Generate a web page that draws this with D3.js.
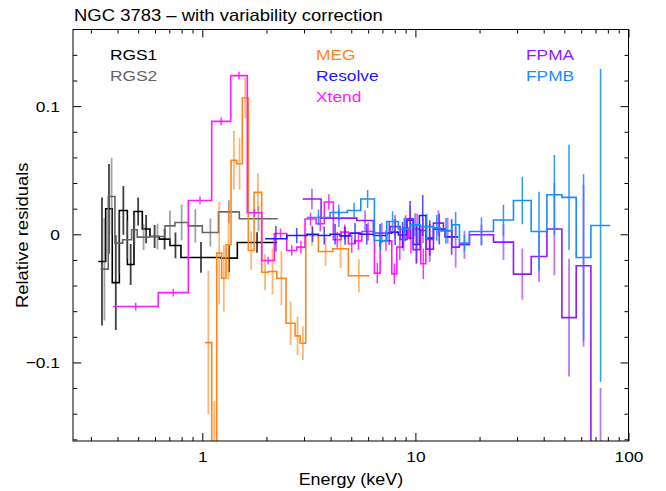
<!DOCTYPE html>
<html>
<head>
<meta charset="utf-8">
<script src="https://cdn.jsdelivr.net/npm/d3@7"></script>
<style>
  html, body { margin: 0; padding: 0; background: #fff; }
  svg text { font-family: "Liberation Sans", Arial, Helvetica, sans-serif; fill: #000; }
</style>
</head>
<body>
<svg id="chart" width="666" height="491"></svg>
<script>
// Residual spectra: each instrument is a set of energy bins (edges in keV),
// the relative residual in each bin and its 1-sigma error.

const rgs1Edges = [0.325, 0.352, 0.378, 0.408, 0.445, 0.478, 0.523, 0.568, 0.628, 0.705, 0.794, 1.224, 1.46, 2.236];
const rgs1Vals  = [-0.0212, 0.0199, -0.0377, 0.0186, -0.0236, 0.0178, 0.0041, -0.0017, -0.0038, -0.0087, -0.0181, -0.0186, -0.0064];
const rgs1Errs  = [0.05, 0.035, 0.037, 0.019, 0.016, 0.011, 0.011, 0.009, 0.008, 0.01, 0.012, 0.011, 0.008];

const rgs2Edges = [0.333, 0.362, 0.389, 0.423, 0.466, 0.495, 0.568, 0.668, 0.744, 0.86, 1.0, 1.191, 1.492, 2.259];
const rgs2Vals  = [-0.0272, 0.0295, -0.0069, -0.0043, 0.0035, -0.0022, -0.0017, 0.0066, 0.0092, 0.0066, 0.0014, 0.0175, 0.0121];
const rgs2Errs  = [0.04, 0.03, 0.024, 0.015, 0.012, 0.01, 0.01, 0.012, 0.014, 0.013, 0.011, 0.009, 0.01];

const megEdges = [1.030, 1.107, 1.169, 1.233, 1.292, 1.364, 1.450, 1.541, 1.644, 1.749, 1.900,
                  2.041, 2.236, 2.471, 2.724, 2.876, 3.058, 3.504, 4.095, 4.847, 6.081];
const megVals  = [-0.0845, -0.22, -0.0147, -0.0343, -0.0082, 0.0577, 0.055, 0.1064, -0.0126, 0.0327,
                  -0.0296, -0.029, -0.0343, -0.0694, -0.0793, -0.085, -0.001, -0.0134, -0.0113, -0.0324];
const megErrs  = [0.056, 0.09, 0.04, 0.026, 0.027, 0.023, 0.02, 0.016, 0.015, 0.015,
                  0.014, 0.018, 0.021, 0.017, 0.015, 0.013, 0.008, 0.011, 0.015, 0.013];

const resolveEdges = [1.970, 2.490, 3.091, 3.504, 3.977, 4.431, 4.936, 5.500, 6.352, 7.341, 7.748,
                      8.321, 9.113, 9.786, 10.44, 11.22, 12.15, 13.79, 15.87];
const resolveVals  = [-0.0035, -0.001, 0.0, -0.001, 0.0, -0.0012, 0.0009, 0.0, -0.001, 0.0009,
                      0.0017, -0.0005, 0.011, -0.008, 0.0147, -0.003, 0.004, -0.002];
const resolveErrs  = [0.01, 0.006, 0.006, 0.007, 0.008, 0.007, 0.008, 0.008, 0.009, 0.009,
                      0.01, 0.01, 0.015, 0.015, 0.016, 0.014, 0.012, 0.014];

const xtendEdges = [0.382, 0.621, 0.860, 1.107, 1.359, 1.626, 1.900, 2.178, 2.490, 2.775, 3.034, 3.419,
                    3.739, 4.121, 4.479, 4.847, 5.212, 5.603, 6.422, 6.83, 7.748, 8.178, 8.727, 9.271,
                    9.786, 10.60, 11.19, 12.15];
const xtendVals  = [-0.0564, -0.0455, 0.0264, 0.0881, 0.1238, 0.0168, -0.0205, 0.0006, -0.0126, -0.010,
                    0.0119, 0.0082, 0.0252, -0.0043, 0.0017, -0.0074, -0.0051, 0.0022, -0.0303, -0.0051,
                    -0.0309, -0.010, 0.0048, -0.003, 0.004, -0.023, -0.004];
const xtendErrs  = [0.003, 0.003, 0.003, 0.003, 0.003, 0.003, 0.003, 0.004, 0.004, 0.005,
                    0.005, 0.006, 0.006, 0.006, 0.006, 0.007, 0.007, 0.007, 0.008, 0.008,
                    0.008, 0.01, 0.01, 0.012, 0.012, 0.012, 0.012];

const fpmaEdges = [2.961, 3.609, 5.307, 6.352, 7.607, 8.476, 9.142, 9.755, 10.52, 11.22, 12.15, 13.54,
                   14.83, 16.09, 17.93, 23.24, 28.85, 34.93, 41.40, 48.68, 56.82, 66.61, 82.06];
const fpmaVals  = [0.0275, 0.0126, 0.0108, 0.001, 0.006, -0.004, 0.012, -0.012, 0.003, -0.0116, 0.0087,
                   0.003, -0.01, -0.0082, -0.0004, -0.0061, -0.0311, -0.0173, 0.0041, -0.065, -0.0246, -0.28];
const fpmaErrs  = [0.008, 0.007, 0.008, 0.008, 0.009, 0.009, 0.01, 0.01, 0.01, 0.01, 0.01,
                   0.01, 0.016, 0.011, 0.008, 0.014, 0.02, 0.02, 0.036, 0.046, 0.063, 0.16];

const fpmbEdges = [3.091, 3.977, 4.795, 5.542, 6.422, 7.341, 8.321, 9.443, 10.52, 12.15, 13.06,
                   14.83, 16.09, 17.93, 23.24, 28.85, 34.93, 41.40, 48.68, 56.82, 66.61, 82.06];
const fpmbVals  = [0.0131, 0.017, 0.0186, 0.0275, -0.0048, 0.01, 0.004, 0.0074, 0.006, 0.005, 0.0027,
                   0.0074, -0.0069, 0.0022, 0.0111, 0.0264, 0.0022, 0.0309, 0.0288, -0.0181, 0.0069];
const fpmbErrs  = [0.006, 0.006, 0.006, 0.007, 0.008, 0.008, 0.009, 0.009, 0.01, 0.01, 0.01,
                   0.01, 0.0065, 0.011, 0.012, 0.0185, 0.031, 0.031, 0.041, 0.065, 0.122];

const xMajorTicks = [1, 10, 100];
const xMinorTicks = [0.3, 0.4, 0.5, 0.6, 0.7, 0.8, 0.9, 2, 3, 4, 5, 6, 7, 8, 9, 20, 30, 40, 50, 60, 70, 80, 90];
const yMajorTicks = [-0.1, 0, 0.1];
const yMinorTicks = [-0.16, -0.14, -0.12, -0.08, -0.06, -0.04, -0.02, 0.02, 0.04, 0.06, 0.08, 0.12, 0.14];

// draw order: later entries sit on top
const series = [
  { name: "RGS1",    color: "#000000", bar: "#000000", barOp: 0.75, barW: 1.8, edges: rgs1Edges,    vals: rgs1Vals,    errs: rgs1Errs },
  { name: "RGS2",    color: "#666666", bar: "#666666", barOp: 0.6,  barW: 1.8, edges: rgs2Edges,    vals: rgs2Vals,    errs: rgs2Errs },
  { name: "MEG",     color: "#ff8519", bar: "#ff8519", barOp: 0.6,  barW: 1.8, edges: megEdges,     vals: megVals,     errs: megErrs },
  { name: "Xtend",   color: "#ff1aff", bar: "#ff1aff", barOp: 0.9,  barW: 1.5, edges: xtendEdges,   vals: xtendVals,   errs: xtendErrs },
  { name: "Resolve", color: "#1a1aff", bar: "#1a1aff", barOp: 0.75, barW: 1.6, edges: resolveEdges, vals: resolveVals, errs: resolveErrs },
  { name: "FPMA",    color: "#8f1aff", bar: "#8f1aff", barOp: 0.6,  barW: 1.8, edges: fpmaEdges,    vals: fpmaVals,    errs: fpmaErrs },
  { name: "FPMB",    color: "#1a8cff", bar: "#1a8cff", barOp: 0.9,  barW: 1.5, edges: fpmbEdges,    vals: fpmbVals,    errs: fpmbErrs }
];

// legend columns
const legendCols = [
  { x: 110, names: ["RGS1", "RGS2"] },
  { x: 316, names: ["MEG", "Resolve", "Xtend"] },
  { x: 526, names: ["FPMA", "FPMB"] }
];

const W = 666, H = 491;
const plot = { left: 73.3, right: 628.5, top: 29.5, bottom: 441 };
const TX = 1.12; // horizontal stretch of the text glyphs

const x = d3.scaleLog().domain([0.2481, 100]).range([plot.left, plot.right]);
const y = d3.scaleLinear().domain([-0.1613, 0.1598]).range([plot.bottom, plot.top]);

const svg = d3.select("#chart");

svg.append("defs").append("clipPath").attr("id", "plotclip")
  .append("rect")
  .attr("x", plot.left).attr("y", plot.top)
  .attr("width", plot.right - plot.left).attr("height", plot.bottom - plot.top);

// data layer
const dataG = svg.append("g").attr("clip-path", "url(#plotclip)");
const stepLine = d3.line().x(d => x(d[0])).y(d => y(d[1])).curve(d3.curveStepAfter);

series.forEach(s => {
  const pts = s.vals.map((v, i) => [s.edges[i], v]);
  pts.push([s.edges[s.edges.length - 1], s.vals[s.vals.length - 1]]);
  const bins = s.vals.map((v, i) => ({
    e: Math.sqrt(s.edges[i] * s.edges[i + 1]), v: v, err: s.errs[i]
  }));
  const g = dataG.append("g").attr("class", "series-" + s.name);
  g.selectAll("line.err").data(bins).enter().append("line")
    .attr("class", "err")
    .attr("x1", d => x(d.e)).attr("x2", d => x(d.e))
    .attr("y1", d => y(d.v - d.err)).attr("y2", d => y(d.v + d.err))
    .attr("stroke", s.bar).attr("stroke-opacity", s.barOp).attr("stroke-width", s.barW);
  g.append("path").datum(pts)
    .attr("d", stepLine)
    .attr("fill", "none").attr("stroke", s.color).attr("stroke-width", 1.6)
    .attr("stroke-linejoin", "miter");
});

// axes
const fmtY = d => d === 0 ? "0" : d3.format(".1f")(d);
function styleAxis(g) {
  g.select(".domain").remove();
  g.selectAll("line").attr("stroke", "#000").attr("stroke-width", 1);
  g.selectAll("text").attr("font-size", 15.5).attr("font-family", null);
}
const axesG = svg.append("g");
axesG.append("g").attr("transform", `translate(0,${plot.bottom})`)
  .call(d3.axisBottom(x).tickValues(xMajorTicks).tickFormat(d3.format("d"))
        .tickSizeInner(-8).tickSizeOuter(0).tickPadding(10))
  .call(styleAxis)
  .call(g => g.selectAll("text").attr("transform", `scale(${TX},1)`));
axesG.append("g").attr("transform", `translate(0,${plot.bottom})`)
  .call(d3.axisBottom(x).tickValues(xMinorTicks).tickFormat("").tickSizeInner(-4).tickSizeOuter(0))
  .call(styleAxis);
axesG.append("g").attr("transform", `translate(0,${plot.top})`)
  .call(d3.axisTop(x).tickValues(xMajorTicks).tickFormat("").tickSizeInner(-8).tickSizeOuter(0))
  .call(styleAxis);
axesG.append("g").attr("transform", `translate(0,${plot.top})`)
  .call(d3.axisTop(x).tickValues(xMinorTicks).tickFormat("").tickSizeInner(-4).tickSizeOuter(0))
  .call(styleAxis);
axesG.append("g").attr("transform", `translate(${plot.left},0)`)
  .call(d3.axisLeft(y).tickValues(yMajorTicks).tickFormat(fmtY)
        .tickSizeInner(-8).tickSizeOuter(0).tickPadding(12))
  .call(styleAxis)
  .call(g => g.selectAll("text").attr("transform", `scale(${TX},1)`));
axesG.append("g").attr("transform", `translate(${plot.left},0)`)
  .call(d3.axisLeft(y).tickValues(yMinorTicks).tickFormat("").tickSizeInner(-4).tickSizeOuter(0))
  .call(styleAxis);
axesG.append("g").attr("transform", `translate(${plot.right},0)`)
  .call(d3.axisRight(y).tickValues(yMajorTicks).tickFormat("").tickSizeInner(-8).tickSizeOuter(0))
  .call(styleAxis);
axesG.append("g").attr("transform", `translate(${plot.right},0)`)
  .call(d3.axisRight(y).tickValues(yMinorTicks).tickFormat("").tickSizeInner(-4).tickSizeOuter(0))
  .call(styleAxis);

// frame
svg.append("rect")
  .attr("x", 73).attr("y", plot.top)
  .attr("width", plot.right - 73).attr("height", plot.bottom - plot.top)
  .attr("fill", "none").attr("stroke", "#000").attr("stroke-width", 1);

// text helper with the horizontal stretch
function label(txt, px, py, opts = {}) {
  const rot = opts.rotate ? ` rotate(${opts.rotate})` : "";
  return svg.append("text")
    .attr("transform", `translate(${px},${py})${rot} scale(${TX},1)`)
    .attr("font-size", opts.size || 15.5)
    .attr("text-anchor", opts.anchor || "start")
    .style("fill", opts.color || "#000")
    .text(txt);
}

label("NGC 3783 \u2013 with variability correction", 74, 20.5, { size: 16.5 });
label("Energy (keV)", (plot.left + plot.right) / 2, 485, { anchor: "middle", size: 16 });
label("Relative residuals", 28, (plot.top + plot.bottom) / 2, { anchor: "middle", rotate: -90, size: 16.5 });

const colorOf = Object.fromEntries(series.map(s => [s.name, s.color]));
legendCols.forEach(col => {
  col.names.forEach((n, i) => {
    label(n, col.x, 60 + i * 21, { color: colorOf[n] });
  });
});
</script>
</body>
</html>
